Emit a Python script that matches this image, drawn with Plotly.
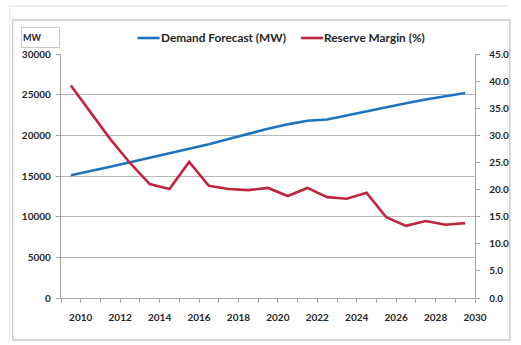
import plotly.graph_objects as go

# Forecast years (one point per year)
years = list(range(2010, 2031))

# Peak demand forecast, MW
demand_mw = [15100, 15600, 16150, 16700, 17250, 17800, 18350, 18900, 19550, 20200,
             20800, 21350, 21800, 21950, 22450, 23000, 23500, 23950, 24400, 24800, 25200]

# Reserve margin, percent
reserve_pct = [39.2, 34.3, 29.3, 24.9, 21.0, 20.1, 25.1, 20.7, 20.1, 19.9,
               20.3, 18.8, 20.3, 18.6, 18.3, 19.4, 14.9, 13.3, 14.2, 13.5, 13.8]

demand_name = "Demand Forecast (MW)"
reserve_name = "Reserve Margin (%)"
unit_label = "MW"

BLUE = "#1F72BE"
RED = "#BE2640"
GRID = "#B8B8B8"
AXIS = "#A6A6A6"
TEXT = "#262626"
FONT = "Lato"

W, H = 521, 345
L, R, T, B = 61, 32, 54, 47
PW, PH = W - L - R, H - T - B

# points sit mid-way between the yearly tick marks
x_pos = [y - 0.5 for y in years]

fig = go.Figure()
fig.add_trace(go.Scatter(x=x_pos, y=demand_mw, mode="lines", name=demand_name,
                         line=dict(color=BLUE, width=2.6), yaxis="y"))
fig.add_trace(go.Scatter(x=x_pos, y=reserve_pct, mode="lines", name=reserve_name,
                         line=dict(color=RED, width=2.6), yaxis="y2"))

tickfont = dict(family=FONT, size=10, color=TEXT, weight="bold")


def px_x(px):
    return (px - L) / PW


def px_y(py):
    return (H - B - py) / PH


fig.update_layout(
    width=W, height=H,
    margin=dict(l=L, r=R, t=T, b=B),
    paper_bgcolor="white", plot_bgcolor="white",
    showlegend=False,
    xaxis=dict(range=[2009, 2030], tick0=2010, dtick=2, tickformat="d",
               ticks="outside", ticklen=4, tickcolor=AXIS,
               minor=dict(dtick=1, ticks="outside", ticklen=4, tickcolor=AXIS),
               showgrid=False, zeroline=False,
               showline=True, linecolor=AXIS, linewidth=1.3,
               tickfont=tickfont, ticklabelstandoff=6),
    yaxis=dict(range=[0, 30000], dtick=5000, tickformat="d",
               ticks="outside", ticklen=4, tickcolor=AXIS,
               showgrid=True, gridcolor=GRID, gridwidth=1.4, zeroline=False,
               showline=True, linecolor=AXIS, linewidth=1.3,
               tickfont=tickfont, ticklabelstandoff=3),
    yaxis2=dict(range=[0, 45], dtick=5, tickformat=".1f", overlaying="y", side="right",
                ticks="outside", ticklen=4, tickcolor=AXIS,
                showgrid=False, zeroline=False,
                showline=True, linecolor=AXIS, linewidth=1.3,
                tickfont=tickfont, ticklabelstandoff=7),
)

# chart frame
fig.add_shape(type="line", xref="paper", yref="paper",
              x0=px_x(8), x1=px_x(W + 2), y0=px_y(6), y1=px_y(6),
              line=dict(color="#DADADA", width=1.2), layer="below")
fig.add_shape(type="rect", xref="paper", yref="paper",
              x0=px_x(11), x1=px_x(W + 4), y0=px_y(340), y1=px_y(20),
              line=dict(color="#C8C8C8", width=1.4), layer="below")
fig.add_shape(type="line", xref="paper", yref="paper",
              x0=px_x(8), x1=px_x(8), y0=px_y(343), y1=px_y(6),
              line=dict(color="#E2E2E2", width=1), layer="below")

# unit box
fig.add_annotation(xref="paper", yref="paper", x=px_x(20), y=px_y(37.5),
                   xanchor="left", yanchor="middle", text=unit_label, showarrow=False,
                   width=35, height=17, align="left", borderpad=1,
                   bordercolor="#C8C8C8", borderwidth=1,
                   font=dict(family=FONT, size=9, color=TEXT, weight="bold"))

# legend
legend_items = [(demand_name, BLUE, 140), (reserve_name, RED, 309)]
for name, color, x0 in legend_items:
    fig.add_shape(type="line", xref="paper", yref="paper",
                  x0=px_x(x0), x1=px_x(x0 + 23), y0=px_y(38), y1=px_y(38),
                  line=dict(color=color, width=2.6))
    fig.add_annotation(xref="paper", yref="paper", x=px_x(x0 + 22), y=px_y(38),
                       xanchor="left", yanchor="middle", text=name, showarrow=False,
                       font=dict(family=FONT, size=11.8, color=TEXT, weight="bold"))

fig.write_html("out.html")
